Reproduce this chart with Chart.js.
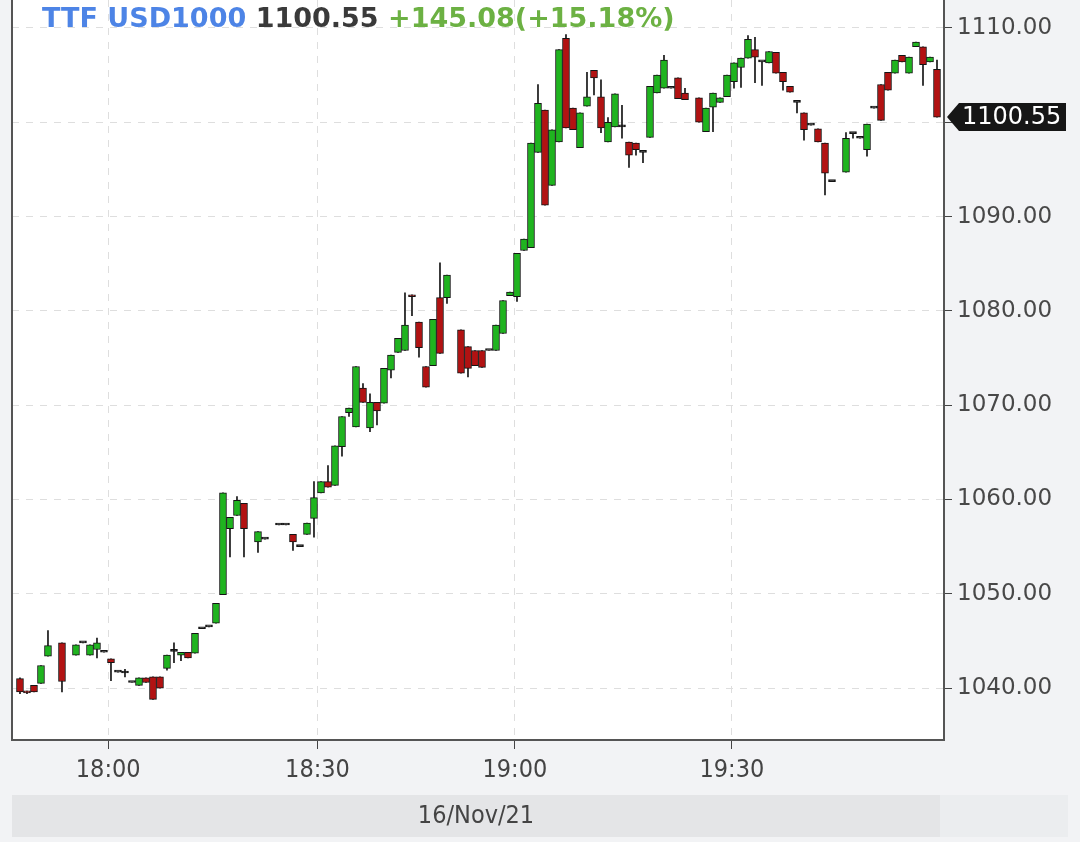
<!DOCTYPE html>
<html>
<head>
<meta charset="utf-8">
<script src="https://cdn.jsdelivr.net/npm/chart.js@4.4.1/dist/chart.umd.min.js"></script>
<style>
  html, body { margin: 0; padding: 0; background: #f2f3f5; }
  #wrap { width: 1080px; height: 842px; }
</style>
</head>
<body>
<div id="wrap"><canvas id="ttf" width="1080" height="842"></canvas></div>
<script>
// one-minute candles, x = slot number (gaps = missing minutes)
const slots = [0,1,2,3,4,6,8,9,10,11,12,13,14,15,16,17,18,19,20,21,22,23,24,25,26,27,28,29,30,31,32,34,35,37,38,39,40,41,42,43,44,45,46,47,48,49,50,51,52,53,54,55,56,57,58,59,60,61,63,64,65,66,67,68,69,70,71,72,73,74,75,76,77,78,79,80,81,82,83,84,85,86,87,88,89,90,91,92,93,94,95,97,98,99,100,101,102,103,104,105,106,107,108,109,110,111,112,113,114,115,116,118,119,120,121,122,123,124,125,126,127,128,129,130,131];

const opens = [1041.0,1039.6,1040.3,1040.5,1043.4,1044.8,1043.5,1044.8,1043.5,1044.1,
  1043.8,1043.1,1041.7,1041.6,1040.6,1040.3,1041.1,1041.2,1041.2,1042.1,
  1043.9,1043.5,1043.8,1043.7,1046.3,1046.5,1046.9,1049.9,1056.9,1058.3,
  1059.6,1055.5,1055.8,1057.3,1057.3,1056.3,1055.0,1056.3,1058.0,1060.7,
  1061.9,1061.5,1065.6,1069.2,1067.7,1071.8,1067.6,1070.3,1070.2,1073.7,
  1075.6,1075.8,1081.6,1078.8,1074.1,1074.2,1081.4,1081.4,1078.0,1076.2,
  1075.8,1075.8,1075.8,1075.8,1077.6,1081.6,1081.5,1086.4,1086.7,1096.8,
  1101.3,1093.3,1097.9,1108.9,1101.5,1097.3,1101.7,1105.5,1102.7,1097.9,
  1099.5,1099.5,1097.9,1097.8,1096.8,1098.4,1103.1,1103.6,1103.6,1104.7,
  1103.1,1102.6,1099.0,1101.6,1102.1,1102.7,1104.3,1105.8,1106.8,1107.7,
  1106.4,1106.3,1107.4,1105.3,1103.8,1102.1,1101.0,1099.7,1099.3,1097.8,
  1093.7,1094.7,1098.8,1098.3,1097.1,1101.5,1104.0,1105.3,1105.2,1107.1,
  1105.2,1108.0,1108.0,1106.4,1105.6];

const closes = [1039.6,1039.5,1039.6,1042.4,1044.5,1040.7,1044.6,1044.8,1044.6,1044.8,
  1043.8,1042.7,1041.7,1041.6,1040.6,1041.1,1040.6,1038.8,1040.0,1043.5,
  1043.9,1043.8,1043.2,1045.8,1046.3,1046.5,1049.0,1060.7,1058.1,1059.9,
  1056.9,1056.6,1055.8,1057.3,1057.3,1055.5,1055.0,1057.5,1060.2,1061.9,
  1061.3,1065.7,1068.8,1069.7,1074.1,1070.3,1070.3,1069.4,1073.9,1075.3,
  1077.1,1078.5,1081.5,1076.1,1071.9,1079.1,1075.5,1083.8,1073.4,1073.9,
  1074.2,1074.0,1075.8,1078.5,1081.1,1082.0,1086.1,1087.6,1097.8,1102.0,
  1091.2,1099.2,1107.7,1099.4,1099.2,1101.0,1102.7,1104.7,1099.4,1100.0,
  1103.0,1099.5,1096.5,1097.1,1096.8,1103.8,1105.0,1106.6,1103.6,1102.5,
  1102.4,1100.0,1101.5,1103.1,1102.6,1105.0,1106.3,1106.8,1108.8,1106.9,
  1106.4,1107.5,1105.2,1104.3,1103.2,1102.1,1099.2,1099.7,1097.9,1094.6,
  1093.7,1098.3,1098.8,1098.3,1099.8,1101.5,1100.2,1103.4,1106.6,1106.4,
  1106.9,1108.5,1106.1,1106.9,1100.55];

const highs = [1041.1,1039.7,1040.3,1042.4,1046.1,1044.8,1044.6,1044.8,1044.6,1045.3,
  1043.8,1043.1,1041.7,1042.0,1040.6,1041.1,1041.1,1041.2,1041.2,1043.5,
  1044.8,1043.8,1043.8,1045.8,1046.3,1046.5,1049.0,1060.7,1058.1,1060.3,
  1059.6,1056.6,1055.8,1057.3,1057.3,1056.3,1055.0,1057.5,1061.9,1061.9,
  1063.6,1065.7,1068.8,1069.7,1074.1,1072.3,1071.2,1070.3,1073.9,1075.3,
  1077.1,1081.9,1081.7,1078.8,1074.1,1079.1,1085.1,1083.8,1078.0,1076.2,
  1075.8,1075.8,1075.8,1078.5,1081.1,1082.0,1086.1,1087.6,1097.8,1104.0,
  1101.3,1099.2,1107.7,1109.3,1101.5,1101.0,1105.3,1105.5,1104.5,1100.5,
  1103.0,1101.8,1097.9,1097.8,1096.8,1103.8,1105.0,1107.1,1103.6,1104.7,
  1103.6,1102.6,1101.5,1103.1,1102.6,1105.0,1106.3,1106.8,1109.2,1109.0,
  1106.4,1107.5,1107.4,1105.3,1103.8,1102.1,1101.0,1099.7,1099.3,1097.8,
  1093.7,1098.9,1098.8,1098.3,1099.8,1101.5,1104.0,1105.3,1106.6,1107.1,
  1106.9,1108.5,1108.0,1106.9,1106.6];

const lows = [1039.4,1039.4,1039.6,1040.5,1043.4,1039.6,1043.5,1044.8,1043.5,1043.2,
  1043.8,1040.8,1041.7,1041.2,1040.6,1040.3,1040.6,1038.8,1040.0,1041.9,
  1042.7,1042.9,1043.2,1043.7,1046.3,1046.5,1046.9,1049.9,1053.9,1058.3,
  1053.9,1054.4,1055.8,1057.3,1057.3,1054.6,1055.0,1056.3,1056.0,1060.7,
  1061.3,1061.5,1064.6,1068.8,1067.7,1070.3,1067.2,1067.9,1070.2,1072.9,
  1075.6,1075.8,1079.5,1075.1,1071.9,1074.2,1075.5,1080.8,1073.4,1073.0,
  1074.2,1074.0,1075.8,1075.8,1077.6,1081.6,1081.0,1086.4,1086.7,1096.8,
  1091.2,1093.3,1097.9,1099.4,1099.2,1097.3,1101.7,1102.9,1098.9,1097.9,
  1099.5,1098.3,1095.2,1096.5,1095.7,1098.4,1103.1,1103.6,1103.6,1102.5,
  1102.4,1100.0,1099.0,1099.0,1102.1,1102.7,1103.6,1103.7,1106.8,1104.2,
  1103.9,1106.3,1105.2,1103.4,1103.2,1101.0,1098.1,1099.7,1097.9,1092.3,
  1093.7,1094.7,1098.3,1098.3,1096.4,1101.5,1100.2,1103.4,1105.2,1106.4,
  1105.2,1108.0,1103.9,1106.4,1100.55];

// axis ticks
const timeLabels = ['18:00', '18:30', '19:00', '19:30'];
const timeSlots = [12.6, 42.5, 70.7, 101.7];
const priceTicks = [1040, 1050, 1060, 1070, 1080, 1090, 1100, 1110];

// header
const symbol = 'TTF USD1000';
const lastPrice = 1100.55;
const change = '+145.08(+15.18%)';
const dateLabel = '16/Nov/21';

const UP = '#1fb41f', DOWN = '#b21212', EDGE = '#141414';

const wickData = slots.map((s, i) => ({ x: s, y: [lows[i], highs[i]] }));
const bodyData = slots.map((s, i) => ({ x: s, y: [opens[i], closes[i]] }));
const bodyColors = slots.map((s, i) => closes[i] > opens[i] ? UP : (closes[i] < opens[i] ? DOWN : EDGE));

const axisFont = '"DejaVu Sans Condensed", "Liberation Sans Narrow", "DejaVu Sans", sans-serif';
const priceFont = '"DejaVu Sans", sans-serif';

const decorPlugin = {
    id: 'decor',
    beforeDraw(chart) {
        const { ctx, chartArea: a } = chart;
        ctx.save();
        ctx.fillStyle = '#f2f3f5';
        ctx.fillRect(0, 0, chart.width, chart.height);
        ctx.fillStyle = '#ffffff';
        ctx.fillRect(a.left, a.top, a.right - a.left, a.bottom - a.top);
        // date band
        ctx.fillStyle = '#e4e5e7';
        ctx.fillRect(a.left, 795, 940 - a.left, 42);
        ctx.fillStyle = '#ebedef';
        ctx.fillRect(940, 795, 128, 42);
        ctx.fillStyle = '#444';
        ctx.font = '25px ' + axisFont;
        ctx.textAlign = 'center';
        ctx.textBaseline = 'middle';
        ctx.fillText(dateLabel, (a.left + 940) / 2, 816);
        ctx.restore();
    },
    afterDraw(chart) {
        const { ctx, chartArea: a } = chart;
        const yScale = chart.scales.y;
        ctx.save();
        // left frame line
        ctx.strokeStyle = '#555';
        ctx.lineWidth = 2;
        ctx.beginPath();
        ctx.moveTo(a.left, a.top);
        ctx.lineTo(a.left, a.bottom);
        ctx.stroke();

        // header text
        ctx.font = 'bold 27px "DejaVu Sans", sans-serif';
        ctx.textBaseline = 'middle';
        ctx.textAlign = 'left';
        let x = 42;
        const parts = [[symbol, '#4d84e6'], [lastPrice.toFixed(2), '#3a3a3a'], [change, '#6cb143']];
        parts.forEach(([t, c]) => {
            ctx.fillStyle = c;
            ctx.fillText(t, x, 20);
            x += ctx.measureText(t + ' ').width;
        });

        // last price tag
        const py = yScale.getPixelForValue(lastPrice);
        ctx.fillStyle = '#161616';
        ctx.beginPath();
        ctx.moveTo(947, py);
        ctx.lineTo(959, py - 14);
        ctx.lineTo(1066, py - 14);
        ctx.lineTo(1066, py + 14);
        ctx.lineTo(959, py + 14);
        ctx.closePath();
        ctx.fill();
        ctx.fillStyle = '#ffffff';
        ctx.font = '24px ' + priceFont;
        ctx.fillText(lastPrice.toFixed(2), 962, py + 1);
        ctx.restore();
    }
};

const ctx = document.getElementById('ttf').getContext('2d');
const chart = new Chart(ctx, {
    type: 'bar',
    data: {
        datasets: [{
            label: 'wick',
            data: wickData,
            backgroundColor: EDGE,
            barThickness: 1,
            grouped: false,
            order: 2
        }, {
            label: 'body',
            data: bodyData,
            backgroundColor: bodyColors,
            borderColor: EDGE,
            borderWidth: 1,
            borderSkipped: false,
            barThickness: 7,
            minBarLength: 2,
            grouped: false,
            order: 1
        }]
    },
    options: {
        responsive: false,
        animation: false,
        layout: { padding: { left: 12, top: 0, right: 0, bottom: 0 } },
        plugins: {
            legend: { display: false },
            tooltip: { enabled: false }
        },
        scales: {
            x: {
                type: 'linear',
                offset: false,
                min: -1.14,
                max: 132,
                afterBuildTicks: s => { s.ticks = timeSlots.map(v => ({ value: v })); },
                afterFit: s => { s.height = 102; s.paddingLeft = 0; s.paddingRight = 0; },
                grid: { color: '#dedede', tickColor: '#444', tickLength: 9, offset: false },
                border: { color: '#555', width: 2, dash: [7, 7] },
                ticks: {
                    autoSkip: false,
                    maxRotation: 0,
                    padding: 6,
                    color: '#444',
                    font: { family: axisFont, size: 25 },
                    callback: (v, i) => timeLabels[i]
                }
            },
            y: {
                position: 'right',
                min: 1034.5,
                max: 1112.96,
                afterBuildTicks: s => { s.ticks = priceTicks.map(v => ({ value: v })); },
                afterFit: s => { s.width = 136; s.paddingTop = 0; s.paddingBottom = 0; },
                grid: { color: '#dedede', tickColor: '#444', tickLength: 8 },
                border: { color: '#555', width: 2, dash: [7, 7] },
                ticks: {
                    padding: 5,
                    color: '#484848',
                    font: { family: priceFont, size: 23 },
                    callback: v => Number(v).toFixed(2)
                }
            }
        }
    },
    plugins: [decorPlugin]
});
</script>
</body>
</html>
